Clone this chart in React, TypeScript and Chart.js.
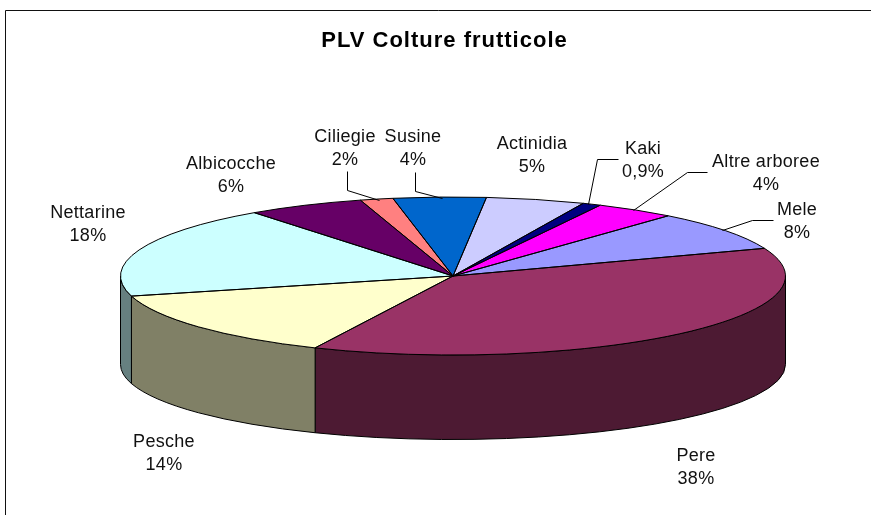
import React, { useEffect, useRef } from "react";
import { Chart, registerables } from "chart.js";

Chart.register(...registerables);

const categories = ["Pere", "Pesche", "Nettarine", "Albicocche", "Ciliegie", "Susine", "Actinidia", "Kaki", "Altre arboree", "Mele"];
const shares = [37.5, 14.1, 18.9, 5.7, 1.6, 4.5, 4.8, 0.9, 3.9, 8.1];
const shareLabels = ["38%", "14%", "18%", "6%", "2%", "4%", "5%", "0,9%", "4%", "8%"];
const topColors = ["#993366", "#FFFFCC", "#CCFFFF", "#660066", "#FF8080", "#0066CC", "#CCCCFF", "#000080", "#FF00FF", "#9999FF"];
const wallColors = ["#4D1A33", "#808066", "#668080", "#330033", "#804040", "#003366", "#666680", "#000040", "#800080", "#4D4D80"];
const chartTitle = "PLV Colture frutticole";

// Page layout of the tilted pie
const CX = 453, CY = 276, RX = 332.5, RY = 79, DEPTH = 88.5, RY_BOTTOM = 75;
const LABEL_FONT = "18px 'Liberation Sans', Arial, sans-serif";
const LINE_GAP = 22.5;
// label centre x and first baseline y, by category
const labelSpots: Record<string, [number, number]> = {
  Pere: [696, 461], Pesche: [164, 447], Nettarine: [88, 218], Albicocche: [231, 169],
  Ciliegie: [345, 142], Susine: [413, 142], Actinidia: [532, 149], Kaki: [643, 154],
  "Altre arboree": [766, 167], Mele: [797, 215],
};
const leaderLines: [number, number][][] = [
  [[347, 171], [347, 190], [379, 200]],
  [[415, 172], [415, 191], [442, 198]],
  [[618, 159], [597, 159], [588, 204]],
  [[707, 172], [687, 172], [633, 210]],
  [[773, 220], [752, 220], [722, 230]],
];

const tiltPlugin = {
  id: "tilt",
  beforeDraw(chart: any) {
    chart.ctx.letterSpacing = "1px"; // the reference's title is stretched wide
  },
  beforeDatasetsDraw(chart: any) {
    const { ctx } = chart;
    ctx.letterSpacing = "0px";
    const arcs = chart.getDatasetMeta(0).data;
    // frame
    ctx.save();
    ctx.strokeStyle = "#111";
    ctx.lineWidth = 1;
    ctx.beginPath();
    ctx.moveTo(5.5, 515);
    ctx.lineTo(5.5, 10.5);
    ctx.lineTo(871, 10.5);
    ctx.stroke();
    ctx.restore();
    // side walls, only the front half of the rim is visible
    arcs.forEach((arc: any, i: number) => {
      const TAU = Math.PI * 2;
      for (const k of [-1, 0, 1]) {
        const a = Math.max(arc.startAngle, k * TAU);
        const b = Math.min(arc.endAngle, k * TAU + Math.PI);
        if (b <= a) continue;
        ctx.save();
        ctx.beginPath();
        ctx.ellipse(CX, CY, RX, RY, 0, a, b);
        ctx.ellipse(CX, CY + DEPTH, RX, RY_BOTTOM, 0, b, a, true);
        ctx.closePath();
        ctx.fillStyle = wallColors[i];
        ctx.fill();
        ctx.strokeStyle = "#000";
        ctx.lineWidth = 1;
        ctx.stroke();
        ctx.restore();
      }
    });
    // squash the library's round pie into the tilted ellipse
    const first = arcs[0];
    const r = first.outerRadius;
    ctx.save();
    ctx.translate(CX, CY);
    ctx.scale(RX / r, RY / r);
    ctx.translate(-first.x, -first.y);
  },
  afterDatasetsDraw(chart: any) {
    const { ctx } = chart;
    ctx.restore();
    const arcs = chart.getDatasetMeta(0).data;
    ctx.save();
    ctx.strokeStyle = "#000";
    ctx.lineWidth = 1;
    arcs.forEach((arc: any) => {
      ctx.beginPath();
      ctx.moveTo(CX, CY);
      ctx.ellipse(CX, CY, RX, RY, 0, arc.startAngle, arc.endAngle);
      ctx.closePath();
      ctx.stroke();
    });
    leaderLines.forEach((pts) => {
      ctx.beginPath();
      pts.forEach(([x, y], i) => (i ? ctx.lineTo(x + 0.5, y + 0.5) : ctx.moveTo(x + 0.5, y + 0.5)));
      ctx.stroke();
    });
    ctx.fillStyle = "#111";
    ctx.font = LABEL_FONT;
    ctx.letterSpacing = "0.3px";
    ctx.textAlign = "center";
    ctx.textBaseline = "alphabetic";
    categories.forEach((name, i) => {
      const [x, y] = labelSpots[name];
      ctx.fillText(name, x, y);
      ctx.fillText(shareLabels[i], x, y + LINE_GAP);
    });
    ctx.letterSpacing = "0px";
    ctx.restore();
  },
};

export default function App() {
  const ref = useRef<HTMLCanvasElement>(null);
  useEffect(() => {
    document.body.style.margin = "0";
    const chart = new Chart(ref.current!, {
      type: "pie",
      data: {
        labels: categories,
        datasets: [{ data: shares, backgroundColor: topColors, borderWidth: 0, clip: false } as any],
      },
      options: {
        responsive: false,
        animation: false,
        rotation: 69.5,
        layout: { padding: { left: 18, top: 28 } },
        plugins: {
          legend: { display: false },
          tooltip: { enabled: false },
          title: {
            display: true,
            text: chartTitle,
            color: "#000",
            font: { family: "'Liberation Sans', Arial, sans-serif", size: 22, weight: "bold" },
            padding: { top: 0, bottom: 10 },
          },
        },
      },
      plugins: [tiltPlugin],
    } as any);
    return () => chart.destroy();
  }, []);
  return <canvas ref={ref} width={871} height={515} style={{ display: "block" }} />;
}
